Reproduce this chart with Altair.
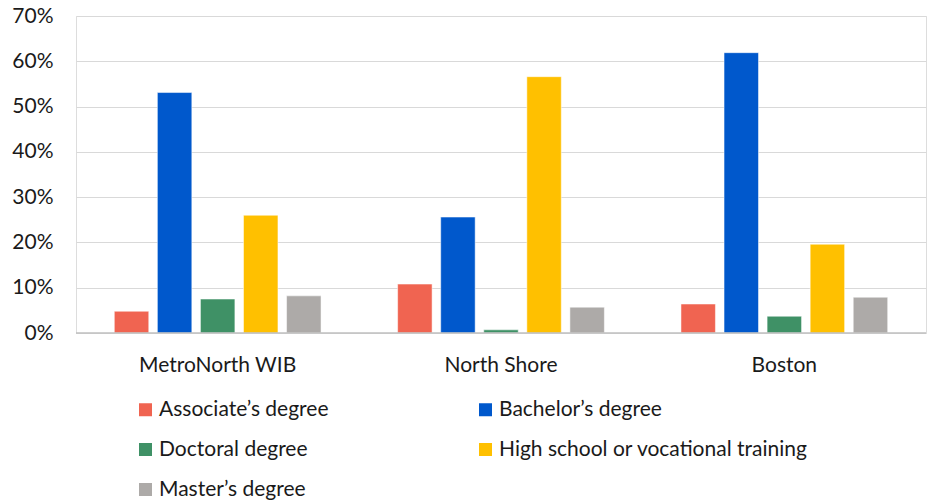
import altair as alt
import pandas as pd

regions = ["MetroNorth WIB", "North Shore", "Boston"]
degrees = ["Associate’s degree", "Bachelor’s degree", "Doctoral degree",
           "High school or vocational training", "Master’s degree"]
colors = ["#F06451", "#0058CC", "#3F9166", "#FFC000", "#ADAAA8"]
values = {
    "MetroNorth WIB": [0.048, 0.531, 0.075, 0.260, 0.082],
    "North Shore":    [0.108, 0.256, 0.007, 0.566, 0.057],
    "Boston":         [0.064, 0.619, 0.037, 0.196, 0.079],
}

rows = []
for r in regions:
    for d, v in zip(degrees, values[r]):
        rows.append({"region": r, "degree": d, "value": v})
df = pd.DataFrame(rows)

FONT = "Lato"
FS = 21

chart = alt.Chart(df).mark_bar(stroke="white", strokeWidth=0.5).encode(
    x=alt.X("region:N", sort=regions, title=None,
            scale=alt.Scale(paddingInner=0.24, paddingOuter=0.12),
            axis=alt.Axis(labelAngle=0, labelFontSize=FS, labelPadding=21,
                          labelColor="#1a1a1a", labelFont=FONT, domain=False,
                          ticks=False)),
    xOffset=alt.XOffset("degree:N", sort=degrees,
                        scale=alt.Scale(paddingInner=0.2, paddingOuter=0.1)),
    y=alt.Y("value:Q", title=None,
            scale=alt.Scale(domain=[0, 0.7]),
            axis=alt.Axis(format=".0%", values=[0, 0.1, 0.2, 0.3, 0.4, 0.5, 0.6, 0.7],
                          labelFontSize=FS, labelPadding=23, labelColor="#1a1a1a",
                          labelFont=FONT, domain=False, ticks=False,
                          gridColor="#d9d9d9", gridWidth=1)),
    color=alt.Color("degree:N", sort=degrees,
                    scale=alt.Scale(domain=degrees, range=colors),
                    legend=alt.Legend(title=None, orient="none", legendX=59, legendY=383,
                                      direction="horizontal", columns=2,
                                      symbolType="square", symbolSize=169,
                                      symbolStrokeWidth=0, labelFontSize=FS,
                                      labelFont=FONT, labelColor="#1a1a1a",
                                      labelLimit=600,
                                      columnPadding=146, rowPadding=18,
                                      labelOffset=3)),
)

zero = alt.Chart(pd.DataFrame({"y": [0]})).mark_rule(color="#bfbfbf", strokeWidth=1.5).encode(
    y=alt.Y("y:Q", scale=alt.Scale(domain=[0, 0.7]))
)

final = alt.layer(chart, zero).properties(
    width=850, height=317,
    autosize=alt.AutoSizeParams(type="none"),
    padding={"left": 76, "top": 16, "right": 10, "bottom": 168},
).configure_view(stroke=None).configure(font=FONT)

final.save("out.html", embed_options={"renderer": "svg", "actions": False})
